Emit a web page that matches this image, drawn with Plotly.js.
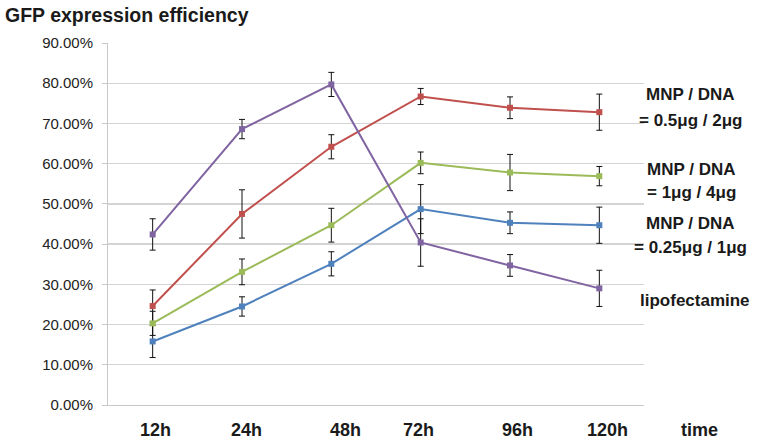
<!DOCTYPE html>
<html>
<head>
<meta charset="utf-8">
<script src="https://cdn.plot.ly/plotly-3.0.1.min.js"></script>
<style>html,body{margin:0;padding:0;background:#fff;}#chart{width:758px;height:441px;}</style>
</head>
<body>
<div id="chart"></div>
<script>
// ---- data ----
const categories = ['12h', '24h', '48h', '72h', '96h', '120h'];
const xAxisLabel = 'time';
const seriesNames = ['MNP / DNA = 0.25μg / 1μg', 'MNP / DNA = 0.5μg / 2μg', 'MNP / DNA = 1μg / 4μg', 'lipofectamine'];
const blueVals   = [0.158, 0.245, 0.351, 0.487, 0.453, 0.447];
const blueErr    = [0.040, 0.024, 0.030, 0.061, 0.027, 0.045];
const redVals    = [0.246, 0.475, 0.642, 0.767, 0.739, 0.728];
const redErr     = [0.040, 0.060, 0.030, 0.020, 0.027, 0.045];
const greenVals  = [0.203, 0.331, 0.447, 0.602, 0.578, 0.569];
const greenErr   = [0.030, 0.032, 0.042, 0.027, 0.045, 0.024];
const purpleVals = [0.424, 0.686, 0.797, 0.404, 0.347, 0.290];
const purpleErr  = [0.039, 0.024, 0.030, 0.059, 0.027, 0.045];
const legendLines = [
  ['MNP / DNA', '= 0.5μg / 2μg'],
  ['MNP / DNA', '= 1μg / 4μg'],
  ['MNP / DNA', '= 0.25μg / 1μg'],
  ['lipofectamine']
];
const titleText = 'GFP expression efficiency';

// ---- styling / layout ----
const W = 758, H = 441;
const M = {l: 108, r: 114, t: 43, b: 36};
const PW = W - M.l - M.r;
const px2paperX = p => (p - M.l) / PW;
const py2paperY = p => 1 - (p - M.t) / (H - M.t - M.b);

function mk(name, y, err, color) {
  return {
    type: 'scatter', mode: 'lines+markers', name: name,
    x: categories, y: y,
    line: {color: color, width: 2},
    marker: {symbol: 'square', size: 6, color: color},
    error_y: {type: 'data', array: err, visible: true, color: '#111', thickness: 1, width: 3}
  };
}
const traces = [
  mk(seriesNames[0], blueVals, blueErr, '#4F81BD'),
  mk(seriesNames[1], redVals, redErr, '#C0504D'),
  mk(seriesNames[2], greenVals, greenErr, '#9BBB59'),
  mk(seriesNames[3], purpleVals, purpleErr, '#8064A2')
];

const boldFont = (size) => ({family: 'Liberation Sans, Arial, sans-serif', size: size, color: '#1a1a1a', weight: 700});

const annotations = [];
// x category labels (offset from point positions as in the reference)
const labelPx = [155, 246, 345, 418, 517, 607];
categories.forEach((c, i) => {
  annotations.push({text: c, xref: 'paper', yref: 'paper', x: px2paperX(labelPx[i]), y: py2paperY(430),
    xanchor: 'center', yanchor: 'middle', showarrow: false, font: boldFont(18)});
});
annotations.push({text: xAxisLabel, xref: 'paper', yref: 'paper', x: px2paperX(699), y: py2paperY(430),
  xanchor: 'center', yanchor: 'middle', showarrow: false, font: boldFont(18)});
// series labels
const legendY = [[95, 120], [169, 193], [223, 247], [300]];
const legendX = [690, 691, 690, 695];
legendLines.forEach((lines, g) => {
  lines.forEach((t, k) => {
    annotations.push({text: t, xref: 'paper', yref: 'paper', x: px2paperX(legendX[g]), y: py2paperY(legendY[g][k]),
      xanchor: 'center', yanchor: 'middle', showarrow: false, font: boldFont(17)});
  });
});

const layout = {
  width: W, height: H,
  margin: M,
  paper_bgcolor: '#fff', plot_bgcolor: '#fff',
  showlegend: false,
  title: {text: titleText, xref: 'container', yref: 'container', x: 5 / W, xanchor: 'left',
    y: 1 - 15 / H, yanchor: 'middle', font: boldFont(19.5)},
  xaxis: {
    type: 'category', range: [-0.5, 5.5], showticklabels: false, ticks: '',
    showgrid: false, zeroline: false, showline: true, linecolor: '#c8c8c8', linewidth: 1, fixedrange: true
  },
  yaxis: {
    range: [0, 0.9], tickvals: [0, 0.1, 0.2, 0.3, 0.4, 0.5, 0.6, 0.7, 0.8, 0.9], tickformat: '.2%',
    showgrid: true, gridcolor: '#d4d4d4', gridwidth: 1.3, zeroline: false,
    showline: true, linecolor: '#c8c8c8', linewidth: 1,
    ticks: 'outside', ticklen: 5, tickcolor: '#c8c8c8', ticklabelstandoff: 6,
    tickfont: {family: 'Liberation Sans, Arial, sans-serif', size: 15, color: '#222'}, fixedrange: true
  },
  annotations: annotations
};

Plotly.newPlot('chart', traces, layout, {displayModeBar: false, staticPlot: true});
</script>
</body>
</html>
